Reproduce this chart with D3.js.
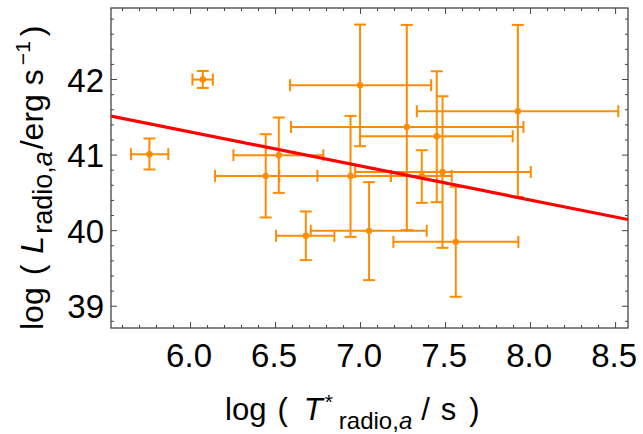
<!DOCTYPE html>
<html>
<head>
<meta charset="utf-8">
<script src="https://cdn.jsdelivr.net/npm/d3@7"></script>
<style>
  html, body { margin: 0; padding: 0; background: #fff; }
  svg { display: block; }
  text { font-family: "Liberation Sans", Arial, sans-serif; fill: #000; }
</style>
</head>
<body>
<svg id="chart" width="643" height="434"></svg>
<script>
// ---- data ----
const logT      = [5.761, 6.075, 6.522, 6.445, 6.944, 7.363, 7.485, 7.000, 7.275, 7.451, 7.928, 7.053, 6.681, 7.563];
const logTLow   = [5.653, 6.014, 6.255, 6.147, 6.525, 7.181, 6.971, 6.588, 6.594, 7.000, 7.334, 6.710, 6.506, 7.196];
const logTHigh  = [5.872, 6.134, 6.784, 6.749, 7.181, 7.539, 8.004, 7.418, 7.961, 7.898, 8.519, 7.392, 6.849, 7.931];
const logL      = [41.005, 41.993, 40.992, 40.718, 40.718, 40.718, 40.770, 41.918, 41.366, 41.243, 41.574, 39.991, 39.925, 39.845];
const logLLow   = [40.803, 41.882, 40.493, 40.168, 39.911, 40.361, 39.766, 41.111, 40.000, 40.370, 40.440, 39.339, 39.603, 39.118];
const logLHigh  = [41.213, 42.107, 41.491, 41.270, 41.512, 41.058, 41.772, 42.721, 42.716, 42.103, 42.716, 40.635, 40.247, 40.573];
const fitCoef   = [44.0, -0.45];           // intercept, slope of the red fit line
const xDomain   = [5.535, 8.576];
const yDomain   = [38.705, 42.94];
const xTickLabels = ["6.0", "6.5", "7.0", "7.5", "8.0", "8.5"];
const yTickLabels = ["39", "40", "41", "42"];

const points = logT.map((x, i) => ({
  x, xl: logTLow[i], xh: logTHigh[i],
  y: logL[i], yl: logLLow[i], yh: logLHigh[i]
}));

// ---- layout ----
const svg = d3.select("#chart");
const L = 111, R = 628, T = 8, B = 328;
const x = d3.scaleLinear().domain(xDomain).range([L, R]);
const y = d3.scaleLinear().domain(yDomain).range([B, T]);

const orange = "#ff8c00";
const axisColor = "#444";

// ---- axes (ticks inward on all four sides) ----
const xMajor = xTickLabels.map(Number);
const xMinor = d3.range(56, 86).map(d => d / 10).filter(v => !xMajor.some(m => Math.abs(m - v) < 1e-9));
const yMajor = yTickLabels.map(Number);
const yMinor = d3.range(194, 215).map(d => d / 5).filter(v => v >= yDomain[0] && v <= yDomain[1] && !yMajor.some(m => Math.abs(m - v) < 1e-9));

function styleAxis(g) {
  g.select(".domain").remove();
  g.selectAll(".tick line").attr("stroke", axisColor).attr("stroke-width", 1);
}

svg.append("g").attr("transform", `translate(0,${B})`)
  .call(d3.axisBottom(x).tickValues(xMajor).tickSize(-6).tickFormat("")).call(styleAxis);
svg.append("g").attr("transform", `translate(0,${B})`)
  .call(d3.axisBottom(x).tickValues(xMinor).tickSize(-3).tickFormat("")).call(styleAxis);
svg.append("g").attr("transform", `translate(0,${T})`)
  .call(d3.axisTop(x).tickValues(xMajor).tickSize(-6).tickFormat("")).call(styleAxis);
svg.append("g").attr("transform", `translate(0,${T})`)
  .call(d3.axisTop(x).tickValues(xMinor).tickSize(-3).tickFormat("")).call(styleAxis);
svg.append("g").attr("transform", `translate(${L},0)`)
  .call(d3.axisLeft(y).tickValues(yMajor).tickSize(-6).tickFormat("")).call(styleAxis);
svg.append("g").attr("transform", `translate(${L},0)`)
  .call(d3.axisLeft(y).tickValues(yMinor).tickSize(-3).tickFormat("")).call(styleAxis);
svg.append("g").attr("transform", `translate(${R},0)`)
  .call(d3.axisRight(y).tickValues(yMajor).tickSize(-6).tickFormat("")).call(styleAxis);
svg.append("g").attr("transform", `translate(${R},0)`)
  .call(d3.axisRight(y).tickValues(yMinor).tickSize(-3).tickFormat("")).call(styleAxis);

svg.append("rect")
  .attr("x", L).attr("y", T).attr("width", R - L).attr("height", B - T)
  .attr("fill", "none").attr("stroke", axisColor).attr("stroke-width", 1.3);

// tick labels
svg.append("g").selectAll("text").data(xTickLabels).join("text")
  .attr("x", d => x(+d) - 1).attr("y", B + 39)
  .attr("text-anchor", "middle")
  .style("font-size", "33px")
  .text(d => d);
svg.append("g").selectAll("text").data(yTickLabels).join("text")
  .attr("x", L - 7).attr("y", d => y(+d) + 12.5)
  .attr("text-anchor", "end")
  .style("font-size", "33px")
  .text(d => d);

// ---- plot content (clipped to frame) ----
svg.append("clipPath").attr("id", "clip")
  .append("rect").attr("x", L).attr("y", T).attr("width", R - L).attr("height", B - T);
const plot = svg.append("g").attr("clip-path", "url(#clip)");

const cap = 6;
const eb = plot.append("g").attr("stroke", orange).attr("stroke-width", 2).attr("fill", "none");
points.forEach(p => {
  const g = eb.append("g");
  g.append("line").attr("x1", x(p.xl)).attr("x2", x(p.xh)).attr("y1", y(p.y)).attr("y2", y(p.y));
  g.append("line").attr("x1", x(p.xl)).attr("x2", x(p.xl)).attr("y1", y(p.y) - cap).attr("y2", y(p.y) + cap);
  g.append("line").attr("x1", x(p.xh)).attr("x2", x(p.xh)).attr("y1", y(p.y) - cap).attr("y2", y(p.y) + cap);
  g.append("line").attr("x1", x(p.x)).attr("x2", x(p.x)).attr("y1", y(p.yl)).attr("y2", y(p.yh));
  g.append("line").attr("x1", x(p.x) - cap).attr("x2", x(p.x) + cap).attr("y1", y(p.yl)).attr("y2", y(p.yl));
  g.append("line").attr("x1", x(p.x) - cap).attr("x2", x(p.x) + cap).attr("y1", y(p.yh)).attr("y2", y(p.yh));
});
plot.append("g").selectAll("circle").data(points).join("circle")
  .attr("cx", d => x(d.x)).attr("cy", d => y(d.y)).attr("r", 3.2)
  .attr("fill", orange);

plot.append("path")
  .datum(xDomain.map(v => [v, fitCoef[0] + fitCoef[1] * v]))
  .attr("d", d3.line().x(d => x(d[0])).y(d => y(d[1])))
  .attr("stroke", "#ff0000").attr("stroke-width", 3.2).attr("fill", "none");

// ---- axis titles ----
const xt = svg.append("text")
  .attr("x", 225).attr("y", 420)
  .attr("text-anchor", "start")
  .style("font-size", "31px");
xt.append("tspan").text("log");
xt.append("tspan").attr("dx", 11).text("(");
xt.append("tspan").attr("dx", 16).style("font-style", "italic").text("T");
xt.append("tspan").attr("dx", 2).attr("dy", -11).style("font-size", "21px").text("*");
xt.append("tspan").attr("dx", 6).attr("dy", 20).style("font-size", "24px").text("radio,");
xt.append("tspan").style("font-size", "24px").style("font-style", "italic").text("a");
xt.append("tspan").attr("dx", 9).attr("dy", -9).text("/");
xt.append("tspan").attr("dx", 11).text("s");
xt.append("tspan").attr("dx", 13).text(")");

const yt = svg.append("text")
  .attr("transform", "translate(43,330) rotate(-90)")
  .attr("text-anchor", "start")
  .style("font-size", "32px");
yt.append("tspan").text("log");
yt.append("tspan").attr("dx", 12).text("(");
yt.append("tspan").attr("dx", 11).style("font-style", "italic").text("L");
yt.append("tspan").attr("dx", 2).attr("dy", 9).style("font-size", "27px").text("radio,");
yt.append("tspan").style("font-size", "27px").style("font-style", "italic").text("a");
yt.append("tspan").attr("dx", 2).attr("dy", -9).text("/erg");
yt.append("tspan").attr("dx", 9).text("s");
yt.append("tspan").attr("dx", 4).attr("dy", -13).style("font-size", "21px").text("\u22121");
yt.append("tspan").attr("dx", 5).attr("dy", 13).text(")");
</script>
</body>
</html>
